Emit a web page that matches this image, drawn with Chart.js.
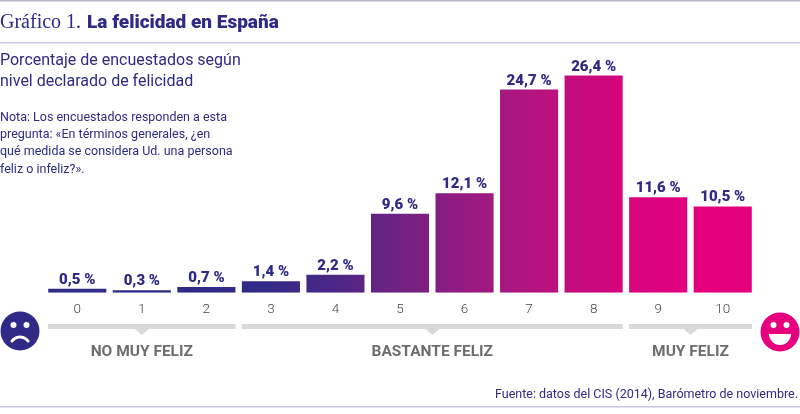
<!DOCTYPE html>
<html>
<head>
<meta charset="utf-8">
<script src="https://cdn.jsdelivr.net/npm/chart.js@4"></script>
<style>
  html, body { margin: 0; padding: 0; background: #fff; }
  #wrap { width: 800px; height: 414px; position: relative; }
</style>
</head>
<body>
<div id="wrap"><canvas id="felicidadChart"></canvas></div>
<script>
// datos
const categories = ['0', '1', '2', '3', '4', '5', '6', '7', '8', '9', '10'];
const values = [0.5, 0.3, 0.7, 1.4, 2.2, 9.6, 12.1, 24.7, 26.4, 11.6, 10.5];
const valueLabels = ['0,5 %', '0,3 %', '0,7 %', '1,4 %', '2,2 %', '9,6 %', '12,1 %', '24,7 %', '26,4 %', '11,6 %', '10,5 %'];
const groupLabels = ['NO MUY FELIZ', 'BASTANTE FELIZ', 'MUY FELIZ'];
const groupFrom = [0, 3, 9];
const groupTo = [2, 8, 10];

const titleNum = 'Gráfico 1.';
const titleText = 'La felicidad en España';
const subtitleLines = ['Porcentaje de encuestados según', 'nivel declarado de felicidad'];
const noteLines = [
    'Nota: Los encuestados responden a esta',
    'pregunta: «En términos generales, ¿en',
    'qué medida se considera Ud. una persona',
    'feliz o infeliz?».'
];
const sourceText = 'Fuente: datos del CIS (2014), Barómetro de noviembre.';

const PURPLE = '#2e2a86';
const PINK = '#e6007e';
const SANS = 'Roboto, "Noto Sans", sans-serif';

function barGradient(context) {
    const chart = context.chart;
    const area = chart.chartArea;
    if (!area) return PURPLE;
    const g = chart.ctx.createLinearGradient(area.left, 0, area.right, 0);
    g.addColorStop(0, '#2e2a86');
    g.addColorStop(0.3, '#302a88');
    g.addColorStop(0.4, '#4a2786');
    g.addColorStop(0.5, '#702283');
    g.addColorStop(0.6, '#981a80');
    g.addColorStop(0.7, '#b8127f');
    g.addColorStop(0.8, '#d2067d');
    g.addColorStop(0.9, '#e2017e');
    g.addColorStop(1, PINK);
    return g;
}

const decorPlugin = {
    id: 'decor',
    afterDraw(chart) {
        const ctx = chart.ctx;
        const x = chart.scales.x;
        const meta = chart.getDatasetMeta(0);
        ctx.save();

        // header lines
        ctx.fillStyle = '#b9b7d8';
        ctx.fillRect(0, 0, 800, 1.5);
        ctx.fillStyle = '#cac8dc';
        ctx.fillRect(0, 42, 800, 1.5);
        ctx.fillRect(0, 406, 800, 1.5);

        // title
        ctx.textBaseline = 'alphabetic';
        ctx.textAlign = 'left';
        ctx.fillStyle = PURPLE;
        ctx.font = '20px "Liberation Serif", serif';
        ctx.fillText(titleNum, 0, 28);
        const w = ctx.measureText(titleNum + ' ').width;
        ctx.font = '900 19px ' + SANS;
        ctx.fillText(titleText, w + 1, 28);

        ctx.font = '16px ' + SANS;
        subtitleLines.forEach((t, i) => ctx.fillText(t, 0, 65 + i * 20.5));
        ctx.font = '12.5px ' + SANS;
        noteLines.forEach((t, i) => ctx.fillText(t, 0, 121 + i * 17.2));

        // value labels
        ctx.textAlign = 'center';
        ctx.font = '900 15px ' + SANS;
        ctx.fillStyle = PURPLE;
        meta.data.forEach((bar, i) => {
            ctx.fillText(valueLabels[i], bar.x, bar.y - 5);
        });

        // group brackets
        const half = (x.getPixelForValue(1) - x.getPixelForValue(0)) / 2;
        groupLabels.forEach((label, i) => {
            const left = x.getPixelForValue(groupFrom[i]) - half + 3;
            const right = x.getPixelForValue(groupTo[i]) + half - 3;
            const mid = (left + right) / 2;
            ctx.fillStyle = '#d9d9db';
            ctx.fillRect(left, 324, right - left, 5);
            ctx.beginPath();
            ctx.moveTo(mid - 7, 329);
            ctx.lineTo(mid + 7, 329);
            ctx.lineTo(mid, 335);
            ctx.closePath();
            ctx.fill();
            ctx.fillStyle = '#6d6d70';
            ctx.font = 'bold 15.5px ' + SANS;
            ctx.fillText(label, mid, 356);
        });

        // sad face
        ctx.fillStyle = PURPLE;
        ctx.beginPath();
        ctx.arc(20, 331, 19.5, 0, Math.PI * 2);
        ctx.fill();
        ctx.fillStyle = '#fff';
        ctx.beginPath();
        ctx.arc(13.5, 325, 3, 0, Math.PI * 2);
        ctx.arc(26.5, 325, 3, 0, Math.PI * 2);
        ctx.fill();
        ctx.strokeStyle = '#fff';
        ctx.lineWidth = 2.8;
        ctx.lineCap = 'round';
        ctx.beginPath();
        ctx.arc(20, 347, 10, Math.PI * 1.2, Math.PI * 1.8);
        ctx.stroke();

        // happy face
        ctx.fillStyle = PINK;
        ctx.beginPath();
        ctx.arc(780, 332, 19.5, 0, Math.PI * 2);
        ctx.fill();
        ctx.fillStyle = '#fff';
        ctx.beginPath();
        ctx.arc(773.5, 325, 3, 0, Math.PI * 2);
        ctx.arc(786.5, 325, 3, 0, Math.PI * 2);
        ctx.fill();
        ctx.beginPath();
        ctx.moveTo(769, 334);
        ctx.lineTo(791, 334);
        ctx.arc(780, 334, 11, 0, Math.PI);
        ctx.closePath();
        ctx.fill();

        // source
        ctx.textAlign = 'right';
        ctx.fillStyle = PURPLE;
        ctx.font = '12.5px ' + SANS;
        ctx.fillText(sourceText, 798, 398);

        ctx.restore();
    }
};

new Chart(document.getElementById('felicidadChart'), {
    type: 'bar',
    data: {
        labels: categories,
        datasets: [{
            data: values,
            backgroundColor: barGradient,
            borderWidth: 0,
            categoryPercentage: 1,
            barPercentage: 0.9
        }]
    },
    options: {
        responsive: true,
        maintainAspectRatio: false,
        animation: false,
        events: [],
        layout: {
            padding: { left: 45, right: 45, top: 46, bottom: 87 }
        },
        plugins: {
            legend: { display: false },
            tooltip: { enabled: false }
        },
        scales: {
            x: {
                grid: { display: false, drawTicks: false },
                border: { display: false },
                ticks: {
                    padding: 9,
                    color: '#444',
                    font: { family: SANS, size: 13.5, weight: '300' }
                }
            },
            y: {
                display: false,
                min: 0,
                max: 30
            }
        }
    },
    plugins: [decorPlugin]
});
</script>
</body>
</html>
